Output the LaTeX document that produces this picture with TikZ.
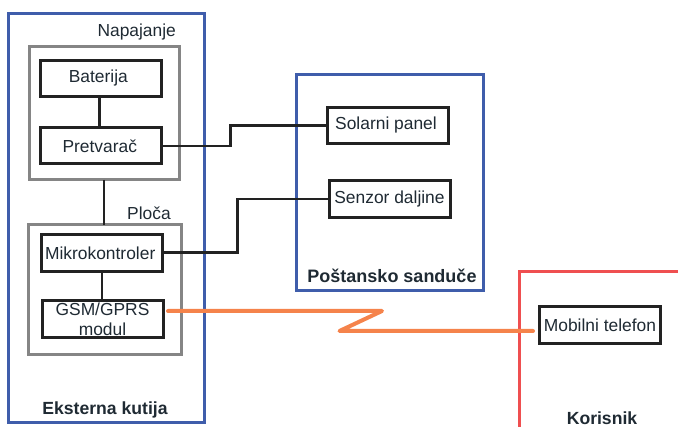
\documentclass[tikz,border=0pt]{standalone}
\usepackage{fontspec}
\setmainfont{Liberation Sans}
\definecolor{bluebox}{HTML}{3F5DAB}
\definecolor{graybox}{HTML}{858585}
\definecolor{redbox}{HTML}{EF4F50}
\definecolor{orangeline}{HTML}{F5834B}
\definecolor{inkline}{HTML}{222222}
\definecolor{inktext}{HTML}{1F2A33}
\tikzset{
  area/.style={draw,line width=3pt,fill=none,outer sep=0pt,inner sep=0pt},
  bluearea/.style={area,draw=bluebox},
  grayarea/.style={area,draw=graybox},
  redarea/.style={area,draw=redbox},
  unit/.style={draw=inkline,line width=3pt,fill=white,outer sep=0pt,inner sep=0pt,
    minimum width=121pt,minimum height=36pt,text=inktext,font=\fontsize{17.4pt}{20pt}\selectfont,align=center},
  caption/.style={text=inktext,inner sep=0pt,font=\fontsize{17.4pt}{20pt}\selectfont},
  boldcaption/.style={text=inktext,inner sep=0pt,font=\fontsize{17.6pt}{20pt}\selectfont\bfseries},
  wire/.style={draw=inkline,line width=2.8pt},
  radio/.style={draw=orangeline,line width=4pt,line join=round,line cap=round}
}
\begin{document}
\begin{tikzpicture}[x=1pt,y=-1pt]
\useasboundingbox (0,0) rectangle (678,427);
% outer areas
\node[bluearea,minimum width=196.5pt,minimum height=409.5pt] (kutija) at (106.6,218.2) {};
\node[bluearea,minimum width=187pt,minimum height=216pt] (sanduce) at (390,182.2) {};
\draw[redarea] (678,272) -- (519.5,272) -- (519.5,427);
% grey groups
\node[grayarea,minimum width=150pt,minimum height=133pt] (napajanje) at (104.8,113.5) {};
\node[grayarea,minimum width=153pt,minimum height=129.5pt] (ploca) at (104.8,289.7) {};
% units
\node[unit] (baterija) at (101.3,78.3) {Baterija\kern6pt};
\node[unit] (pretvarac) at (101.3,146) {Pretvarač\kern3pt};
\node[unit,minimum height=36.5pt] (mikro) at (101.7,252.8) {Mikrokontroler\kern3pt};
\node[unit,minimum height=36.5pt] (gsm) at (102.5,318.8) {GSM/GPRS\\modul};
\node[unit] (solar) at (388,125.5) {Solarni panel\kern4pt};
\node[unit,minimum width=121.5pt,minimum height=37pt] (senzor) at (390,199) {Senzor daljine\kern1pt};
\node[unit,minimum width=121.5pt,minimum height=37pt] (mobilni) at (600,325) {Mobilni telefon};
% captions
\node[caption] (t1) at (136.7,32) {Napajanje};
\node[caption] (t2) at (149,213) {Ploča};
\node[boldcaption] (t3) at (105,409.5) {Eksterna kutija};
\node[boldcaption,font=\fontsize{18pt}{20pt}\selectfont\bfseries] (t4) at (392,275.5) {Poštansko sanduče};
\node[boldcaption] (t5) at (602,418.5) {Korisnik};
% wires
\coordinate (b1) at (230.5,135);
\coordinate (b2) at (237.5,225);
\draw[wire] (baterija.south -| 99.5,0) -- (pretvarac.north -| 99.5,0);
\draw[wire] (napajanje.south -| 104,0) -- (ploca.north -| 104,0);
\draw[wire] (mikro.south -| 102,0) -- (gsm.north -| 102,0);
\draw[wire] (pretvarac.east) -| (b1) |- (solar.west);
\draw[wire] (mikro.east) -| (b2) |- (senzor.west);
% radio link
\coordinate (r0) at (168,311);
\coordinate (r1) at (382,311);
\coordinate (r2) at (339.5,331);
\coordinate (r3) at (533,331);
\draw[radio] (r0) -- (r1) -- (r2) -- (r3);
\end{tikzpicture}
\end{document}
